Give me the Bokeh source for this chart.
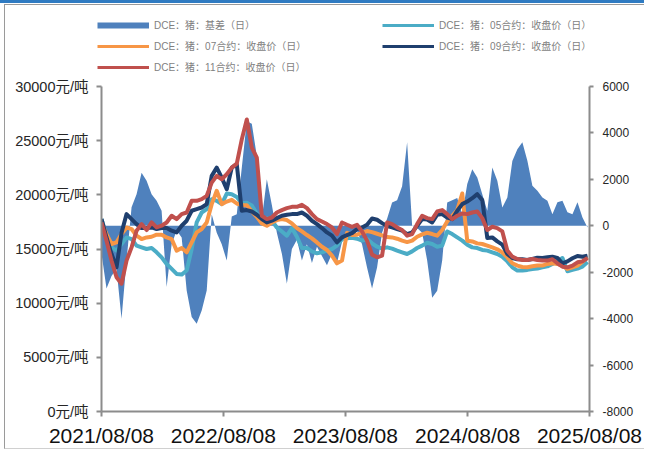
import pandas as pd
from bokeh.plotting import figure
from bokeh.layouts import column
from bokeh.models import (ColumnDataSource, Range1d, LinearAxis, FixedTicker,
                          PrintfTickFormatter, DatetimeTickFormatter, Legend, LegendItem)
from bokeh.embed import file_html
from bokeh.resources import INLINE

# ---------------- data ----------------
dates = pd.date_range("2021-08-08", periods=98, freq="15D")

basis = [-1200, -2700, -2160, -1860, -4000, -1500, 800, 1360, 2290, 1940, 1360, 1080, 650,
         -2640, -790, -200, -500, -2790, -3930, -4220, -3650, -2790, 500, -300, -800,
         -1500, 400, 500, 2500, 4500, 4400, 3000, 300, 2000, 900, -300, -1200, -2500, -1000,
         -600, -1500, -800, -1600, -900, -1300, -1700, -1200, -1600, -700,
         -300, -500, -200, -800, -1800, -2700, -1800, -300, 300, 1000, 1100, 1700, 3600, 0,
         -100, -300, -1500, -3100, -2800, -1500, 1000, 1100, 1200, 500, 1800,
         2440, 2080, 1360, 650, 2510, 1940, 790, 1220, 2790, 3300, 3600, 2800, 1720, 1510,
         1220, 1080, 500, 1010, 1080, 580, 500, 1010, 360, -70]

c05 = [17760, 16230, 15150, 14850, 15460, 16070, 15920, 15310, 15150, 15000, 15090, 14690, 14230,
       13620, 13160, 12700, 12640, 13010, 15000, 17450, 18370, 18680, 19600, 19450, 19140,
       20120, 20060, 19810, 19230, 19260, 19020, 18280, 17850, 17850, 17610, 16990, 16620, 16230,
       16930, 16130, 15090, 15090, 14780, 14600, 14690, 14850, 15000, 15310, 15920,
       15980, 16040, 15950, 15770, 15920, 15520, 15210, 15030, 15150, 15030, 14850, 14690, 14540,
       14780, 15090, 15310, 15580, 15460, 15210, 15310, 16620, 16380, 16070, 15770, 15400,
       15150, 15090, 14910, 14850, 14690, 14540, 14290, 13860, 13310, 13010, 13010, 13070, 13160,
       13190, 13310, 13400, 13620, 13860, 14170, 12940, 13070, 13190, 13370, 13800]

c07 = [17450, 16380, 15460, 15610, 16380, 16990, 16840, 16230, 15920, 16070, 16130, 16320, 16320,
       16070, 15920, 14850, 15090, 14690, 15610, 16530, 16840, 17450, 19140, 20370, 19140,
       19380, 19540, 19200, 19050, 19050, 18460, 17970, 17360, 17150, 17450, 17670, 17760, 17670,
       17360, 16930, 16620, 16290, 15980, 15610, 15210, 14910, 14390, 13680, 13930,
       16500, 16290, 16320, 16500, 16660, 16560, 16410, 16260, 16100, 16070, 15950, 15770, 15640,
       15770, 16130, 16350, 16500, 16380, 16230, 16750, 17540, 18070, 18590, 20120, 15770,
       15700, 15520, 15460, 15310, 15150, 14970, 14690, 14230, 13680, 13470, 13340, 13310, 13400,
       13470, 13470, 13620, 13680, 13620, 13440, 13160, 13310, 13470, 13830, 14230]

c09 = [17760, 16070, 14540, 13310, 16500, 18220, 17760, 17300, 16930, 16930, 16990, 16840, 16930,
       16930, 16690, 16530, 17150, 17610, 18530, 18680, 18830, 19140, 21750, 22510, 21590,
       20520, 22510, 22820, 18530, 18590, 18460, 18160, 17760, 17450, 17610, 17850, 18070, 18160,
       18220, 18220, 18370, 18070, 17610, 17300, 16930, 16530, 16230, 15610, 16070,
       16290, 16470, 16840, 16990, 17240, 17820, 17700, 17390, 17120, 16990, 16840, 16690, 16380,
       16530, 17150, 17760, 17730, 17450, 18160, 18220, 17910, 17760, 18530, 19140, 19380,
       19690, 20060, 19510, 16010, 16070, 15700, 15400, 14540, 14170, 14050, 14050, 13990, 14080,
       14200, 14170, 14230, 14290, 14170, 13680, 13860, 14140, 14360, 14290, 14390]

c11 = [17450, 15770, 13930, 12390, 11800, 13930, 15150, 16690, 17300, 16750, 17450, 16990, 17150,
       17450, 18070, 17760, 18220, 18370, 19450, 19450, 19600, 19910, 21130, 21750, 21440,
       21900, 22510, 22880, 25120, 26960, 24350, 23430, 18070, 17760, 17910, 18370, 18590, 18770,
       18890, 18890, 19080, 18770, 18220, 17760, 17540, 17300, 16990, 16380, 17450,
       17240, 17050, 17240, 16620, 15770, 14480, 14230, 14390, 17450, 17300, 16990, 16750, 16230,
       16380, 17300, 18070, 17850, 17760, 18460, 18590, 18220, 17760, 18070, 18280, 18220,
       18370, 18460, 17850, 16750, 17050, 16930, 16620, 14850, 14290, 14080, 13990, 13990, 14080,
       13990, 13930, 13930, 14050, 13680, 13370, 13310, 13470, 13770, 13860, 14170]

labels = ["DCE：猪：基差（日）", "DCE：猪：05合约：收盘价（日）", "DCE：猪：07合约：收盘价（日）",
          "DCE：猪：09合约：收盘价（日）", "DCE：猪：11合约：收盘价（日）"]
x_tick_dates = ["2021-08-08", "2022-08-08", "2023-08-08", "2024-08-08", "2025-08-08"]
left_ticks = [0, 5000, 10000, 15000, 20000, 25000, 30000]
right_ticks = [-8000, -6000, -4000, -2000, 0, 2000, 4000, 6000]

# ---------------- styling ----------------
AXIS_GREY = "#8C8C8C"
FRAME_GREY = "#9A9A9A"
FONT = "Liberation Sans, Noto Sans CJK SC"
COLORS = ["#4F81BD", "#4BACC6", "#F79646", "#1F3F6E", "#C0504D"]
series = ["c05", "c07", "c09", "c11"]

src = ColumnDataSource(dict(date=list(dates), basis=basis, c05=c05, c07=c07, c09=c09, c11=c11))

# ---------------- main chart ----------------
p = figure(width=640, height=374, x_axis_type="datetime", output_backend="svg",
           toolbar_location=None,
           x_range=Range1d(pd.Timestamp(x_tick_dates[0]), pd.Timestamp(x_tick_dates[-1])),
           y_range=Range1d(left_ticks[0], left_ticks[-1]),
           min_border_left=96, min_border_right=56, min_border_top=11, min_border_bottom=37,
           styles={"margin-left": "4px", "border-left": f"1px solid {FRAME_GREY}",
                   "border-bottom": "1px solid #D0D0D0"})
p.frame_align = False
p.extra_y_ranges = {"right": Range1d(right_ticks[0], right_ticks[-1])}
p.outline_line_color = None
p.xgrid.grid_line_color = None
p.ygrid.grid_line_color = None

p.varea(x="date", y1=0, y2="basis", source=src, fill_color=COLORS[0], y_range_name="right")
for name, col in zip(series, COLORS[1:]):
    p.line("date", name, source=src, line_color=col, line_width=4, line_join="round")

xa = p.xaxis[0]
xa.ticker = FixedTicker(ticks=[pd.Timestamp(d).value // 10**6 for d in x_tick_dates])
fmt = "%Y/%m/%d"
xa.formatter = DatetimeTickFormatter(milliseconds=fmt, seconds=fmt, minsec=fmt, minutes=fmt,
                                     hourmin=fmt, hours=fmt, days=fmt, months=fmt, years=fmt)
xa.major_label_text_font = FONT
xa.major_label_text_font_size = "21px"
xa.major_label_text_color = "#111111"
xa.major_label_standoff = 7
xa.major_tick_out = 5
xa.major_tick_in = 0
xa.minor_tick_line_color = None

ya = p.yaxis[0]
ya.ticker = FixedTicker(ticks=left_ticks)
ya.formatter = PrintfTickFormatter(format="%d元/吨")
ya.major_label_text_font = FONT
ya.major_label_text_font_size = "14.5px"
ya.major_label_text_color = "#262626"
ya.major_label_standoff = 8
ya.major_tick_out = 5
ya.major_tick_in = 0
ya.minor_tick_line_color = None

ra = LinearAxis(y_range_name="right", ticker=FixedTicker(ticks=right_ticks),
                formatter=PrintfTickFormatter(format="%d"))
ra.major_label_text_font = FONT
ra.major_label_text_font_size = "12px"
ra.major_label_text_color = "#262626"
ra.major_label_standoff = 9
ra.major_tick_out = 4
ra.major_tick_in = 0
ra.minor_tick_line_color = None
p.add_layout(ra, "right")

for ax in (xa, ya, ra):
    ax.axis_line_color = AXIS_GREY
    ax.axis_line_width = 2
    ax.major_tick_line_color = AXIS_GREY
    ax.major_tick_line_width = 2

# ---------------- legend strip (own figure so it is not clipped) ----------------
lf = figure(width=640, height=71, output_backend="svg", toolbar_location=None,
            x_range=Range1d(0, 1), y_range=Range1d(0, 1),
            x_axis_location=None, y_axis_location=None, min_border=0,
            styles={"margin-left": "4px", "margin-top": "1px",
                    "border-left": f"1px solid {FRAME_GREY}",
                    "border-top": f"1px solid {FRAME_GREY}"})
lf.frame_align = False
lf.outline_line_color = None
lf.grid.grid_line_color = None
# key glyphs: same data, but far outside this strip's ranges, so only the legend keys show
keys = [lf.line("date", "basis", source=src, line_color=COLORS[0], line_width=6)]
for name, col in zip(series, COLORS[1:]):
    keys.append(lf.line("date", name, source=src, line_color=col, line_width=3))

legend = Legend(items=[LegendItem(label=lab, renderers=[r]) for lab, r in zip(labels, keys)],
                location=(92, 2), orientation="horizontal", ncols=2,
                padding=0, margin=0, spacing=6, glyph_width=52, glyph_height=12,
                label_height=12, label_standoff=5, label_width=222, border_line_color=None,
                background_fill_alpha=0, label_text_font=FONT,
                label_text_font_size="10px", label_text_color="#7F7F7F")
lf.add_layout(legend)

layout = column(lf, p, spacing=0, styles={"border-top": "3px solid #2F7BC2"})
open("out.html", "w").write(file_html(layout, INLINE))
